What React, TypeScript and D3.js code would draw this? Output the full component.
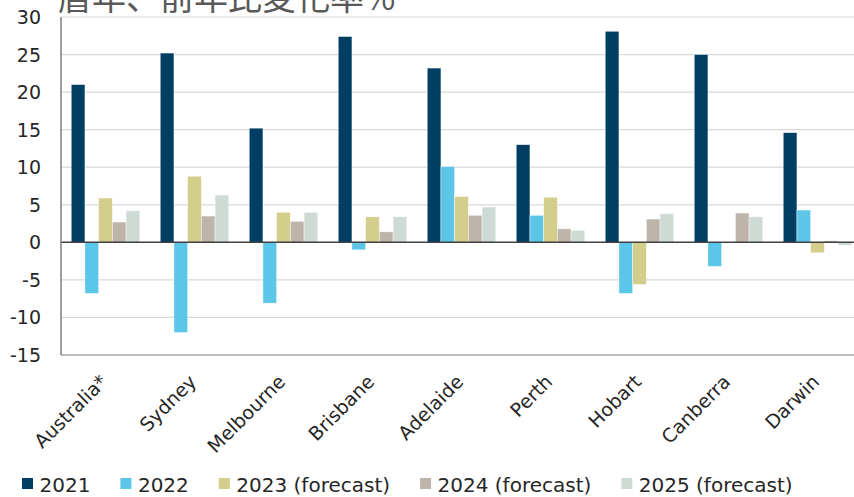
import React, { useEffect, useRef } from "react";
import * as d3 from "d3";

const categories = ["Australia*", "Sydney", "Melbourne", "Brisbane", "Adelaide", "Perth", "Hobart", "Canberra", "Darwin"];
const seriesNames = ["2021", "2022", "2023 (forecast)", "2024 (forecast)", "2025 (forecast)"];
const v2021 = [21.0, 25.2, 15.2, 27.4, 23.2, 13.0, 28.1, 25.0, 14.6];
const v2022 = [-6.8, -12.0, -8.1, -1.0, 10.1, 3.6, -6.8, -3.2, 4.3];
const v2023 = [5.9, 8.8, 4.0, 3.4, 6.1, 6.0, -5.6, -0.1, -1.4];
const v2024 = [2.7, 3.5, 2.8, 1.4, 3.6, 1.8, 3.1, 3.9, 0.2];
const v2025 = [4.2, 6.3, 4.0, 3.4, 4.7, 1.6, 3.8, 3.4, -0.4];
const seriesColors = ["#003f63", "#5bc6e8", "#d3ce8c", "#bfb4aa", "#cedbd4"];
const yTicks = [-15, -10, -5, 0, 5, 10, 15, 20, 25, 30];
const titleText = "暦年、前年比変化率%";

const W = 854;
const H = 497;

export default function App() {
  const ref = useRef<SVGSVGElement | null>(null);

  useEffect(() => {
    document.body.style.margin = "0";
    const svg = d3.select(ref.current);
    svg.selectAll("*").remove();
    const font = "'DejaVu Sans', Verdana, sans-serif";
    const seriesValues = [v2021, v2022, v2023, v2024, v2025];

    const plotLeft = 61;
    const plotRight = 862;
    const y = d3.scaleLinear().domain([-15, 30]).range([355, 17]);
    const x0 = d3.scaleBand<string>().domain(categories).range([plotLeft, plotRight]).paddingInner(0.23).paddingOuter(0.115);
    const x1 = d3.scaleBand<string>().domain(seriesNames).range([0, x0.bandwidth()]).padding(0);

    // title (clipped at the top, as in the reference)
    svg.append("text")
      .attr("x", 58).attr("y", 10)
      .attr("font-family", "'Noto Sans CJK JP', sans-serif")
      .attr("font-size", 34)
      .attr("fill", "#595959")
      .text(titleText);

    // gridlines
    svg.append("g").selectAll("line").data(yTicks.filter(t => t !== 0 && t !== -15)).join("line")
      .attr("x1", plotLeft).attr("x2", W)
      .attr("y1", d => y(d)).attr("y2", d => y(d))
      .attr("stroke", "#d9d9d9").attr("stroke-width", 1.2);

    // bars
    const g = svg.append("g");
    seriesNames.forEach((s, si) => {
      g.append("g").selectAll("rect").data(seriesValues[si]).join("rect")
        .attr("x", (d, i) => (x0(categories[i]) as number) + (x1(s) as number))
        .attr("width", x1.bandwidth())
        .attr("y", d => Math.min(y(d), y(0)))
        .attr("height", d => Math.abs(y(d) - y(0)))
        .attr("fill", seriesColors[si])
        .attr("stroke", "#ffffff").attr("stroke-width", 0.6).attr("stroke-opacity", 0.7);
    });

    // zero line
    svg.append("line")
      .attr("x1", plotLeft).attr("x2", W)
      .attr("y1", y(0)).attr("y2", y(0))
      .attr("stroke", "#404040").attr("stroke-width", 1.5);

    // axes lines
    svg.append("line")
      .attr("x1", plotLeft).attr("x2", W)
      .attr("y1", y(-15)).attr("y2", y(-15))
      .attr("stroke", "#a6a6a6").attr("stroke-width", 1.5);
    svg.append("line")
      .attr("x1", plotLeft).attr("x2", plotLeft)
      .attr("y1", y(30)).attr("y2", y(-15))
      .attr("stroke", "#7f7f7f").attr("stroke-width", 1.5);

    // y tick labels
    svg.append("g").selectAll("text").data(yTicks).join("text")
      .attr("x", 41).attr("y", d => y(d))
      .attr("text-anchor", "end").attr("dominant-baseline", "central")
      .attr("font-family", font).attr("font-size", 19)
      .attr("fill", "#262626")
      .text(d => String(d));

    // x labels
    svg.append("g").selectAll("text").data(categories).join("text")
      .attr("transform", d => `translate(${(x0(d) as number) + x0.bandwidth() / 2 + 3},${383}) rotate(-45)`)
      .attr("text-anchor", "end")
      .attr("font-family", font).attr("font-size", 19)
      .attr("fill", "#262626")
      .text(d => d);

    // legend
    const lg = svg.append("g");
    let lx = 22;
    seriesNames.forEach((s, si) => {
      lg.append("rect").attr("x", lx).attr("y", 478).attr("width", 11).attr("height", 11).attr("fill", seriesColors[si]);
      const t = lg.append("text").attr("x", lx + 17.5).attr("y", 491.5)
        .attr("font-family", font).attr("font-size", 20).attr("fill", "#262626").text(s);
      const w = (t.node() as SVGTextElement).getComputedTextLength();
      lx = lx + 17.5 + w + 30;
    });
  }, []);

  return (
    <svg ref={ref} width={W} height={H} style={{ display: "block", position: "absolute", left: 0, top: 0, background: "#fff" }} />
  );
}
